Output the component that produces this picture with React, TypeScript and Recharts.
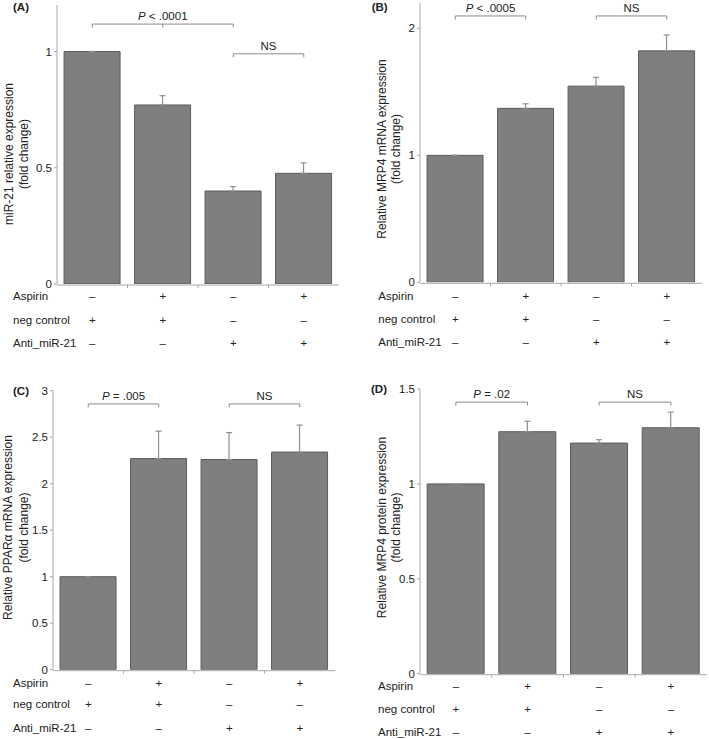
import React from 'react';
import { BarChart, Bar, XAxis, YAxis, ErrorBar, ReferenceLine } from 'recharts';

// groups (columns) and the treatment table under the bars
const categories = ['G1', 'G2', 'G3', 'G4'];
const rowLabels = ['Aspirin', 'neg control', 'Anti_miR-21'];
const aspirinRow = ['–', '+', '–', '+'];
const negControlRow = ['+', '+', '–', '–'];
const antiMiR21Row = ['–', '–', '+', '+'];
const tableRows = [aspirinRow, negControlRow, antiMiR21Row];

// (A) miR-21
const mir21Values = [1, 0.77, 0.4, 0.476];
const mir21Errors = [0, 0.04, 0.019, 0.045];
// (B) MRP4 mRNA
const mrp4MrnaValues = [1, 1.37, 1.545, 1.823];
const mrp4MrnaErrors = [0, 0.036, 0.07, 0.125];
// (C) PPARa mRNA
const pparValues = [1, 2.27, 2.26, 2.34];
const pparErrors = [0, 0.295, 0.29, 0.29];
// (D) MRP4 protein
const mrp4ProteinValues = [1, 1.275, 1.215, 1.296];
const mrp4ProteinErrors = [0, 0.055, 0.018, 0.082];

const seriesValues = [mir21Values, mrp4MrnaValues, pparValues, mrp4ProteinValues];
const seriesErrors = [mir21Errors, mrp4MrnaErrors, pparErrors, mrp4ProteinErrors];

const yMaxes = [1.2, 2.2, 3, 1.5];
const yTicks = [[0, 0.5, 1], [0, 1, 2], [0, 0.5, 1, 1.5, 2, 2.5, 3], [0, 0.5, 1, 1.5]];
const panelLetters = ['(A)', '(B)', '(C)', '(D)'];
const yLabels = [
  ['miR-21 relative expression', '(fold change)'],
  ['Relative MRP4 mRNA expression', '(fold change)'],
  ['Relative PPARα mRNA expression', '(fold change)'],
  ['Relative MRP4 protein expression', '(fold change)'],
];

// significance brackets: [from, to] group index, level in data units
const sigTexts = ['P < .0001', 'P < .0005', 'P = .005', 'P = .02'];
const sigSpans = [[0, 2], [0, 1], [0, 1], [0, 1]];
const sigLevels = [1.118, 2.098, 2.858, 1.431];
const nsTexts = ['NS', 'NS', 'NS', 'NS'];
const nsSpans = [[2, 3], [2, 3], [2, 3], [2, 3]];
const nsLevels = [0.99, 2.098, 2.858, 1.431];

const axisColor = '#a8a8a8';
const textColor = '#222';
const barFill = '#7f7f7f';
const barStroke = '#5c5c5c';
const bracketColor = '#8c8c8c';
const fs = 11.5;

const layouts = [
  { left: 0, top: 0, width: 354, height: 370, margin: { top: 5, right: 15, left: 0, bottom: 84 }, yw: 57,
    lx: [9.2, 23.7], ly: 154, rowX: 13, rowDy: [16.2, 39.5, 62.5], letter: [13, 11] },
  { left: 355, top: 0, width: 354, height: 370, margin: { top: 3, right: 7, left: 0, bottom: 85.7 }, yw: 65,
    lx: [26.7, 40.7], ly: 149, rowX: 23.3, rowDy: [17.4, 40.7, 64], letter: [16.7, 10.7] },
  { left: 0, top: 370, width: 354, height: 369, margin: { top: 20.7, right: 19, left: 0, bottom: 67.3 }, yw: 53,
    lx: [8.3, 24], ly: 157.5, rowX: 13, rowDy: [16.8, 38.6, 61.8], letter: [13, 25] },
  { left: 355, top: 370, width: 354, height: 369, margin: { top: 19, right: 2.3, left: 0, bottom: 63.3 }, yw: 65,
    lx: [26.7, 40.7], ly: 157.5, rowX: 23, rowDy: [16.2, 39.5, 62.6], letter: [16, 23] },
];

function BracketText({ viewBox, text }: any) {
  if (!viewBox) return null;
  const cx = viewBox.x + viewBox.width / 2;
  const y = viewBox.y - 4;
  const italic = text.startsWith('P ');
  return (
    <text x={cx} y={y} textAnchor="middle" fontSize={fs} fill={textColor}>
      {italic ? (
        <>
          <tspan fontStyle="italic">P</tspan>
          <tspan>{text.slice(1)}</tspan>
        </>
      ) : (
        text
      )}
    </text>
  );
}

function Panel({ idx }: { idx: number }) {
  const L = layouts[idx];
  const values = seriesValues[idx];
  const errors = seriesErrors[idx];
  const data = categories.map((c, i) => ({ name: c, pos: i + 0.5, value: values[i], err: [0, errors[i]] }));
  const yMax = yMaxes[idx];
  const plotH = L.height - L.margin.top - L.margin.bottom;
  const drop = (3.5 * yMax) / plotH;

  const brackets = [
    { span: sigSpans[idx], level: sigLevels[idx], text: sigTexts[idx], mid: idx === 0 },
    { span: nsSpans[idx], level: nsLevels[idx], text: nsTexts[idx], mid: false },
  ];

  const tableTick = (p: any) => {
    const { x, y, payload } = p;
    const index = categories.indexOf(payload?.value);
    if (index < 0) return <g />;
    return (
      <g>
        {tableRows.map((row, r) => (
          <text key={r} x={x} y={y + L.rowDy[r]} textAnchor="middle" fontSize={fs} fill={textColor}>
            {row[index]}
          </text>
        ))}
        {index === 0 &&
          rowLabels.map((lab, r) => (
            <text key={'l' + r} x={L.rowX} y={y + L.rowDy[r]} fontSize={fs} fill={textColor}>
              {lab}
            </text>
          ))}
      </g>
    );
  };

  const yLabel = () => (
    <g>
      <text x={L.letter[0]} y={L.letter[1]} fontSize={fs} fontWeight="bold" fill={textColor}>
        {panelLetters[idx]}
      </text>
      {yLabels[idx].map((line, k) => (
        <text
          key={k}
          x={L.lx[k]}
          y={L.ly}
          transform={`rotate(-90 ${L.lx[k]} ${L.ly})`}
          textAnchor="middle"
          dominantBaseline="central"
          fontSize={12}
          fill={textColor}
        >
          {line}
        </text>
      ))}
    </g>
  );

  return (
    <div style={{ position: 'absolute', left: L.left, top: L.top }}>
      <BarChart width={L.width} height={L.height} data={data} margin={L.margin} barCategoryGap="10%">
        <XAxis
          xAxisId="cat"
          dataKey="name"
          height={1}
          axisLine={false}
          tickLine={false}
          tickSize={0}
          tickMargin={0}
          interval={0}
          tick={tableTick}
        />
        <XAxis
          xAxisId="edge"
          type="number"
          dataKey="pos"
          domain={[0, 4]}
          ticks={[1, 2, 3]}
          height={1}
          tick={() => <g />}
          tickSize={3}
          axisLine={{ stroke: axisColor }}
          tickLine={{ stroke: axisColor }}
          allowDataOverflow
        />
        <YAxis
          domain={[0, yMax]}
          ticks={yTicks[idx]}
          width={L.yw}
          tickSize={3}
          tickMargin={2}
          axisLine={{ stroke: axisColor }}
          tickLine={{ stroke: axisColor }}
          tick={{ fontSize: 11.5, fill: textColor }}
          allowDataOverflow
          label={yLabel}
        />
        <Bar xAxisId="cat" dataKey="value" fill={barFill} stroke={barStroke} strokeWidth={1} isAnimationActive={false}>
          <ErrorBar dataKey="err" width={3} stroke="#8f8f8f" strokeWidth={1.2} direction="y" />
        </Bar>
        {brackets.map((b, k) => {
          const [from, to] = b.span;
          const ends = b.mid ? [from, from + 1, to] : [from, to];
          return (
            <React.Fragment key={k}>
              <ReferenceLine
                xAxisId="cat"
                segment={[
                  { x: categories[from], y: b.level },
                  { x: categories[to], y: b.level },
                ]}
                stroke={bracketColor}
                strokeWidth={1}
                label={(lp: any) => <BracketText {...lp} text={b.text} />}
              />
              {ends.map((e) => (
                <ReferenceLine
                  key={e}
                  xAxisId="cat"
                  segment={[
                    { x: categories[e], y: b.level },
                    { x: categories[e], y: b.level - drop },
                  ]}
                  stroke={bracketColor}
                  strokeWidth={1}
                />
              ))}
            </React.Fragment>
          );
        })}
      </BarChart>
    </div>
  );
}

export default function App() {
  return (
    <div
      style={{
        position: 'absolute',
        left: 0,
        top: 0,
        width: 709,
        height: 739,
        background: '#fff',
        fontFamily: '"Liberation Sans", Arial, Helvetica, sans-serif',
      }}
    >
      {[0, 1, 2, 3].map((i) => (
        <Panel key={i} idx={i} />
      ))}
    </div>
  );
}
